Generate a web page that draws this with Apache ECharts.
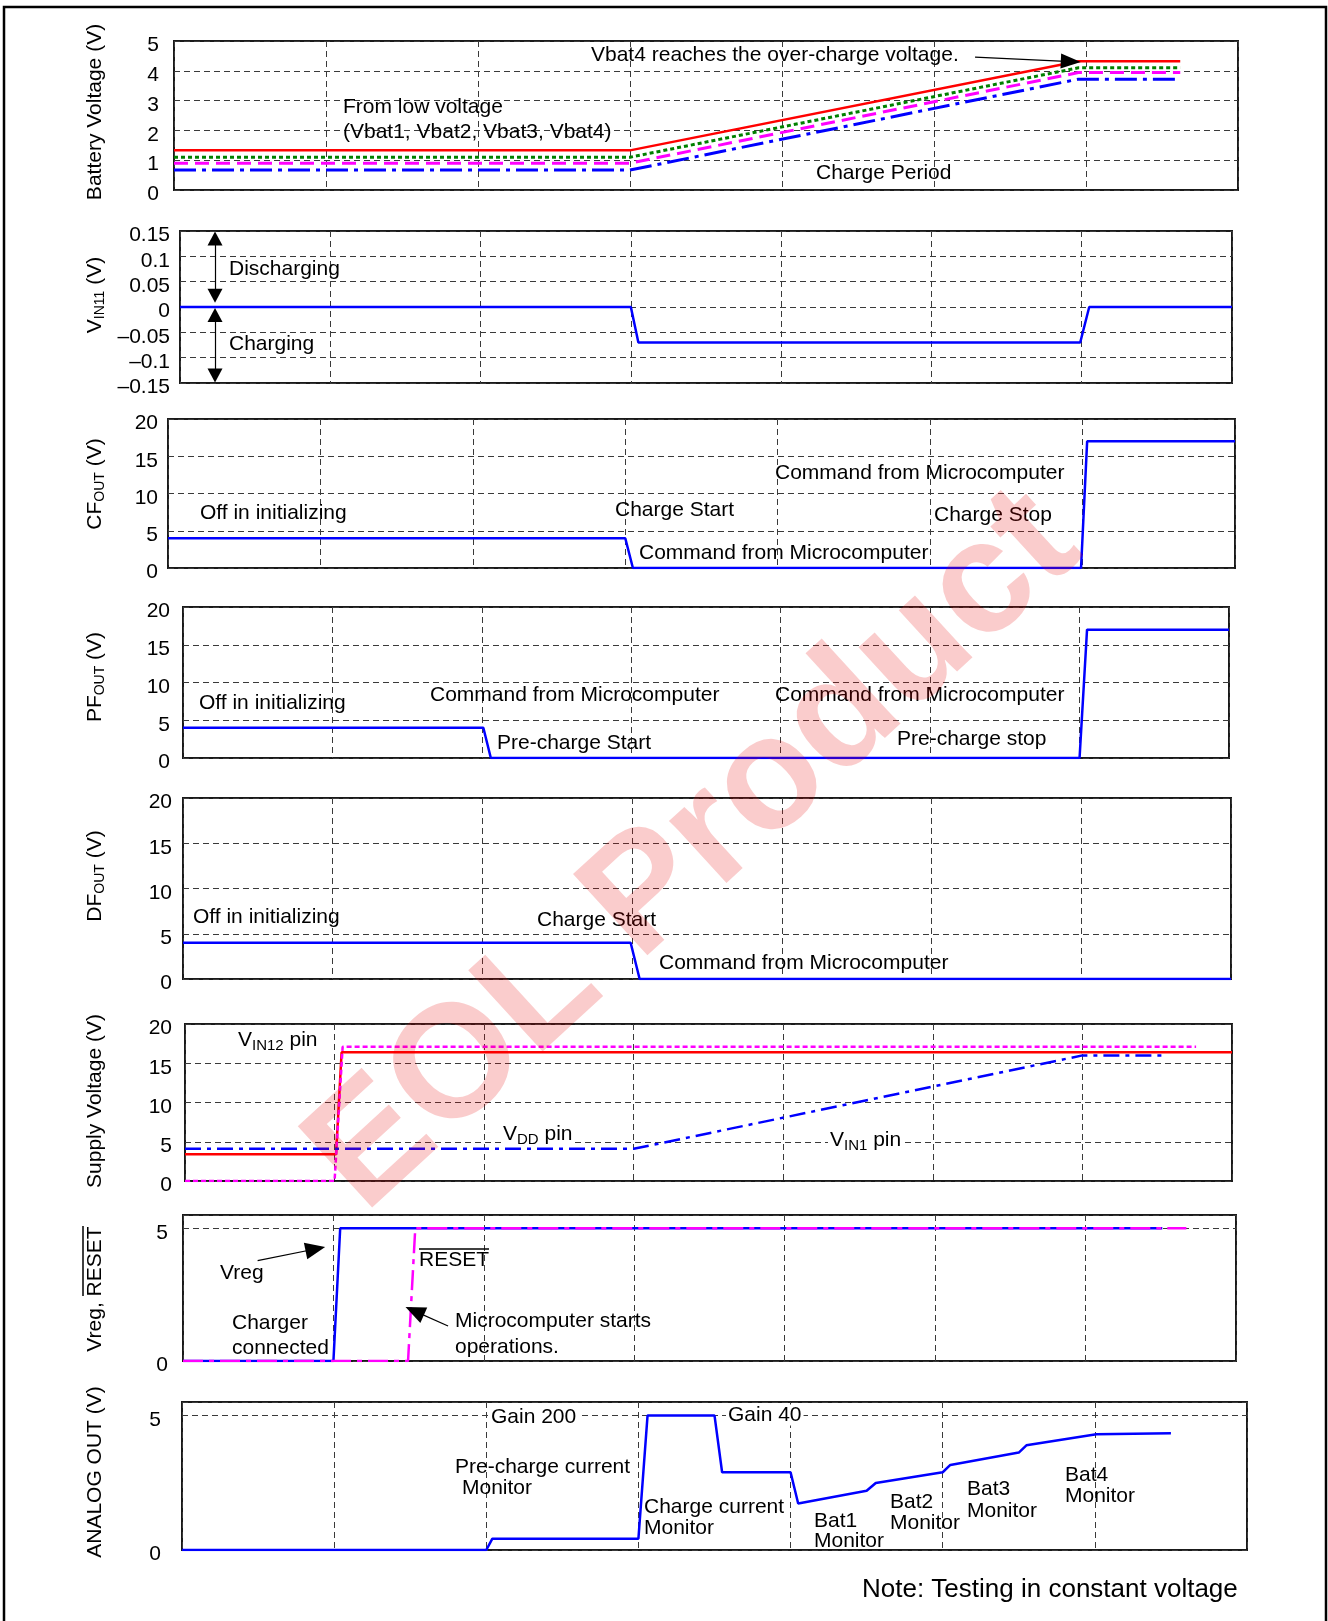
<!DOCTYPE html>
<html><head><meta charset="utf-8">
<script src="https://cdn.jsdelivr.net/npm/echarts@6/dist/echarts.min.js"></script>
<style>html,body{margin:0;padding:0;background:#fff}#c{width:1328px;height:1621px}</style>
</head><body><div id="c"></div>
<script>
// ---------------- DATA ----------------
// Panel 1: Battery voltage (time in divisions 0..7)
const batT        = [0, 3.0, 5.95, 6.62];
const vbatRed     = [1.33, 1.33, 4.32, 4.32];
const vbatGreen   = [1.10, 1.10, 4.10, 4.10];
const vbatMagenta = [0.90, 0.90, 3.94, 3.94];
const vbatBlue    = [0.67, 0.67, 3.72, 3.72];
// Panel 2: VIN11
const vin11T = [0, 3.0, 3.05, 5.99, 6.05, 7];
const vin11V = [0, 0, -0.07, -0.07, 0, 0];
// Panel 3: CFOUT
const cfT = [0, 3.0, 3.05, 5.99, 6.03, 7];
const cfV = [4, 4, 0, 0, 17, 17];
// Panel 4: PFOUT
const pfT = [0, 2.01, 2.06, 6.0, 6.05, 7];
const pfV = [4, 4, 0, 0, 17, 17];
// Panel 5: DFOUT
const dfT = [0, 2.99, 3.05, 7];
const dfV = [4, 4, 0, 0];
// Panel 6: Supply voltage
const vin12T = [0, 1.01, 1.047, 7];
const vin12V = [3.4, 3.4, 16.4, 16.4];
const supMagT = [0, 1.0, 1.054, 6.76];
const supMagV = [0, 0, 17.1, 17.1];
const vddT = [0, 3.0, 6.0, 6.56];
const vddV = [4.1, 4.1, 16.0, 16.0];
// Panel 7: Vreg, RESET
const vregT = [0, 1.0, 1.045, 6.51];
const vregV = [0, 0, 5, 5];
const resetT = [0, 1.496, 1.544, 6.67];
const resetV = [0, 0, 5, 5];
// Panel 8: ANALOG OUT
const anaT = [0, 2.0, 2.04, 3.0, 3.06, 3.5, 3.55, 4.0, 4.05, 4.5, 4.56, 5.0, 5.05, 5.5, 5.55, 6.01, 6.5];
const anaV = [0, 0, 0.42, 0.42, 5, 5, 2.89, 2.89, 1.73, 2.2, 2.49, 2.89, 3.16, 3.62, 3.89, 4.30, 4.34];
// Axis scales
const yMin      = [0, -0.15, 0, 0, 0, 0, 0, 0];
const yMax      = [5, 0.15, 20, 20, 20, 20, 5.5, 5.5];
const yInterval = [1, 0.05, 5, 5, 5, 5, 5, 5];
const xMin = 0, xMax = 7, xInterval = 1;

// ---------------- LAYOUT ----------------
const FONT = '"Liberation Sans", Arial, Helvetica, sans-serif';
const grids = [
  {left:174, top:41,   width:1064, height:149},
  {left:180, top:231,  width:1052, height:152},
  {left:168, top:419,  width:1067, height:149},
  {left:183, top:607,  width:1046, height:151},
  {left:183, top:798,  width:1048, height:181},
  {left:185, top:1024, width:1047, height:157},
  {left:183, top:1215, width:1053, height:146},
  {left:182, top:1402, width:1065, height:148}
];
const labelMargins = [15, 10, 10, 13, 11, 13, 15, 21];
const GRIDLINE = {type:[6,4], color:'#3a3a3a', width:1};

function fmtY(i) {
  return function (v) {
    let s;
    if (i === 1) {
      const r = Math.round(v * 100) / 100;
      if (r === 0) s = '0';
      else s = (r < 0 ? '\u2013' : '') + Math.abs(r).toFixed(2).replace(/0$/, '');
    } else if (i >= 6) {
      s = (Math.abs(v % 5) < 1e-9) ? String(v) : '';
    } else s = String(v);
    return s === '' ? '' : '{p|' + s + '}';
  };
}

const zip = (xs, ys) => xs.map((x, k) => [x, ys[k]]);
function line(i, xs, ys, color, type, width, extra) {
  return Object.assign({
    type:'line', xAxisIndex:i, yAxisIndex:i, data:zip(xs, ys),
    showSymbol:false, symbol:'none', animation:false, silent:true, z:3,
    lineStyle:{color:color, type:type, width:width, cap:'butt'}
  }, extra || {});
}
function arrows(list, size) {
  return {
    silent:true, animation:false, symbol:['none','triangle'], symbolSize:size,
    label:{show:false}, emphasis:{disabled:true},
    lineStyle:{color:'#000', type:'solid', width:1.2},
    data:list.map(a => [{coord:a[0], symbol:a[2] ? 'triangle' : 'none'}, {coord:a[1], symbol:'triangle'}])
  };
}

const option = {
  backgroundColor:'#fff',
  animation:false,
  grid: grids.map(g => Object.assign({show:true, borderColor:'#1a1a1a', borderWidth:2, backgroundColor:'transparent', containLabel:false, outerBoundsMode:'none'}, g)),
  xAxis: grids.map((g, i) => ({
    type:'value', gridIndex:i, min:xMin, max:xMax, interval:xInterval,
    axisLine:{show:false}, axisTick:{show:false}, axisLabel:{show:false},
    splitLine:{show:true, lineStyle:GRIDLINE}
  })),
  yAxis: grids.map((g, i) => ({
    type:'value', gridIndex:i, min:yMin[i], max:yMax[i], interval:yInterval[i],
    axisLine:{show:false}, axisTick:{show:false},
    axisLabel:{color:'#000', fontSize:21, fontFamily:FONT, margin:labelMargins[i], formatter:fmtY(i),
      showMaxLabel:true, showMinLabel:true,
      rich:{p:{fontSize:21, fontFamily:FONT, color:'#000', padding:[9,0,0,0]}}},
    splitLine:{show:true, lineStyle:GRIDLINE}
  })),
  series: [
    line(0, batT, vbatRed, '#ff0000', 'solid', 2.5, {
      markLine: arrows([[[5.27, 4.46], [5.90, 4.31]]], [15, 20])
    }),
    line(0, batT, vbatGreen, '#008000', [4,3], 3),
    line(0, batT, vbatMagenta, '#ff00ff', [14,7], 3),
    line(0, batT, vbatBlue, '#0000ff', [22,6,4,6], 3),

    line(1, vin11T, vin11V, '#0000ff', 'solid', 2.5, {
      markLine: arrows([[[0.233, 0.135], [0.233, 0.022], true], [[0.233, -0.016], [0.233, -0.135], true]], [15, 14])
    }),
    line(2, cfT, cfV, '#0000ff', 'solid', 2.5),
    line(3, pfT, pfV, '#0000ff', 'solid', 2.5),
    line(4, dfT, dfV, '#0000ff', 'solid', 2.5),

    line(5, vin12T, vin12V, '#ff0000', 'solid', 2.5),
    line(5, supMagT, supMagV, '#ff00ff', [5,3], 2.5),
    line(5, vddT, vddV, '#0000ff', [16,6,4,6], 2.5),

    line(6, vregT, vregV, '#0000ff', 'solid', 2.5, {
      markLine: arrows([[[0.496, 3.78], [0.88, 4.22]], [[1.762, 1.32], [1.54, 1.88]]], [17, 20])
    }),
    line(6, resetT, resetV, '#ff00ff', [20,6,5,6], 2.5),

    line(7, anaT, anaV, '#0000ff', 'solid', 2.5)
  ],
  graphic: []
};

// ---------------- TEXT ----------------
const F21 = '21px ' + FONT;
function ann(x, y, text, extra) {
  return {type:'text', x:x, y:y, z:50, silent:true,
    style:Object.assign({text:text, fill:'#000', font:F21, textAlign:'left', textVerticalAlign:'middle'}, extra || {})};
}
const RICH = {
  m:{fontSize:21, fontFamily:FONT, lineHeight:24},
  s:{fontSize:15, fontFamily:FONT, lineHeight:16, padding:[12,0,0,0]},
  t:{fontSize:14, fontFamily:FONT, lineHeight:16, padding:[11,0,0,0]}
};
function title(y, text) {
  return {type:'text', x:95, y:y, rotation:Math.PI/2, z:50, silent:true,
    style:{text:text, rich:RICH, fill:'#000', font:F21, textAlign:'center', textVerticalAlign:'middle'}};
}
const g = option.graphic;
// outer frame
g.push({type:'rect', z:1, silent:true, shape:{x:4, y:7, width:1322, height:1650}, style:{fill:'none', stroke:'#000', lineWidth:2.5}});
// axis titles
g.push(title(112, '{m|Battery Voltage (V)}'));
g.push(title(295, '{m|V}{t|IN11}{m| (V)}'));
g.push(title(484, '{m|CF}{t|OUT}{m| (V)}'));
g.push(title(677, '{m|PF}{t|OUT}{m| (V)}'));
g.push(title(876, '{m|DF}{t|OUT}{m| (V)}'));
g.push(title(1101, '{m|Supply Voltage (V)}'));
g.push({type:'group', x:95, y:1289, rotation:Math.PI/2, z:50, silent:true, children:[
  {type:'text', z:50, style:{text:'Vreg, RESET', fill:'#000', font:F21, textAlign:'center', textVerticalAlign:'middle'}},
  {type:'line', z:50, shape:{x1:-7, y1:-12, x2:63, y2:-12}, style:{stroke:'#000', lineWidth:1.5}}
]});
g.push(title(1472, '{m|ANALOG OUT (V)}'));

// panel 1
g.push(ann(591, 55, 'Vbat4 reaches the over-charge voltage.'));
g.push(ann(343, 107, 'From low voltage'));
g.push(ann(343, 132, '(Vbat1, Vbat2, Vbat3, Vbat4)'));
g.push(ann(816, 173, 'Charge Period'));
// panel 2
g.push(ann(229, 269, 'Discharging'));
g.push(ann(229, 344, 'Charging'));
// panel 3
g.push(ann(200, 513, 'Off in initializing'));
g.push(ann(615, 510, 'Charge Start'));
g.push(ann(639, 553, 'Command from Microcomputer'));
g.push(ann(775, 473, 'Command from Microcomputer'));
g.push(ann(934, 515, 'Charge Stop'));
// panel 4
g.push(ann(199, 703, 'Off in initializing'));
g.push(ann(430, 695, 'Command from Microcomputer'));
g.push(ann(497, 743, 'Pre-charge Start'));
g.push(ann(775, 695, 'Command from Microcomputer'));
g.push(ann(897, 739, 'Pre-charge stop'));
// panel 5
g.push(ann(193, 917, 'Off in initializing'));
g.push(ann(537, 920, 'Charge Start'));
g.push(ann(659, 963, 'Command from Microcomputer'));
// panel 6
g.push(ann(238, 1040, '{m|V}{s|IN12}{m| pin}', {rich:RICH}));
g.push(ann(501, 1134, '{m|V}{s|DD}{m| pin}', {rich:RICH, backgroundColor:'#fff', padding:[0,2,0,2]}));
g.push(ann(828, 1140, '{m|V}{s|IN1}{m| pin}', {rich:RICH, backgroundColor:'#fff', padding:[0,2,0,2]}));
// panel 7
g.push(ann(220, 1273, 'Vreg'));
g.push({type:'group', x:419, y:1260, z:50, silent:true, children:[
  {type:'text', z:50, style:{text:'RESET', fill:'#000', font:F21, textAlign:'left', textVerticalAlign:'middle'}},
  {type:'line', z:50, shape:{x1:0, y1:-11, x2:70, y2:-11}, style:{stroke:'#000', lineWidth:1.5}}
]});
g.push(ann(232, 1323, 'Charger'));
g.push(ann(232, 1348, 'connected'));
g.push(ann(455, 1321, 'Microcomputer starts'));
g.push(ann(455, 1347, 'operations.'));
// panel 8
g.push(ann(489, 1417, 'Gain 200', {backgroundColor:'#fff', padding:[0,2,0,2]}));
g.push(ann(726, 1415, 'Gain 40', {backgroundColor:'#fff', padding:[0,2,0,2]}));
g.push(ann(455, 1467, 'Pre-charge current'));
g.push(ann(462, 1488, 'Monitor'));
g.push(ann(644, 1507, 'Charge current'));
g.push(ann(644, 1528, 'Monitor'));
g.push(ann(814, 1521, 'Bat1'));
g.push(ann(814, 1541, 'Monitor'));
g.push(ann(890, 1502, 'Bat2'));
g.push(ann(890, 1523, 'Monitor'));
g.push(ann(967, 1489, 'Bat3'));
g.push(ann(967, 1511, 'Monitor'));
g.push(ann(1065, 1475, 'Bat4'));
g.push(ann(1065, 1496, 'Monitor'));
g.push(ann(862, 1590, 'Note: Testing in constant voltage', {font:'26px ' + FONT}));
// watermark
g.push({type:'text', x:695, y:852, rotation:42.5 * Math.PI / 180, z:100, silent:true,
  style:{text:'EOL Product', fill:'rgba(230,0,0,0.2)', font:'bold 160px ' + FONT, textAlign:'center', textVerticalAlign:'middle'}});

const chart = echarts.init(document.getElementById('c'), null, {renderer:'canvas'});
chart.setOption(option);
</script></body></html>
